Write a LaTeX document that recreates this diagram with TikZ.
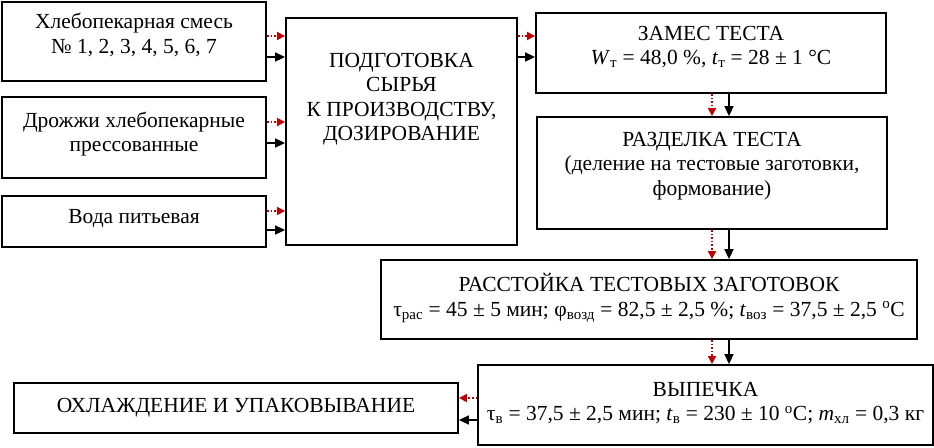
\documentclass[tikz,border=0pt]{standalone}
\usepackage{fontspec}
\setmainfont{Liberation Serif}
\usetikzlibrary{arrows.meta}
\definecolor{arrred}{RGB}{192,0,0}
\begin{document}
\begin{tikzpicture}[x=1pt,y=-1pt,
  box/.style={draw, line width=1.8pt, inner sep=0pt},
  txt/.style={align=center, font=\fontsize{21.5}{24.5}\selectfont, inner sep=0pt},
  flowk/.style={line width=1.6pt, -{Triangle[length=10pt,width=9pt]}},
  flowr/.style={arrred, line width=1.6pt, dotted, -{Triangle[length=8pt,width=8pt]}}]
\useasboundingbox (0,0) rectangle (934,447);
% boxes
\node[box, minimum width=264, minimum height=79] (b1) at (134,41.5) {};
\node[box, minimum width=264, minimum height=81] (b2) at (134,137.5) {};
\node[box, minimum width=264, minimum height=51] (b3) at (134,221.5) {};
\node[box, minimum width=231, minimum height=227] (big) at (401.5,131.5) {};
\node[box, minimum width=350, minimum height=80] (zam) at (711,53) {};
\node[box, minimum width=350, minimum height=112] (raz) at (712,173) {};
\node[box, minimum width=536, minimum height=79] (ras) at (649,299.5) {};
\node[box, minimum width=455, minimum height=80] (vyp) at (705.5,405) {};
\node[box, minimum width=444, minimum height=50] (okh) at (236,408) {};
% texts
\node[txt] (t1) at (134,35) {Хлебопекарная смесь\\№ 1, 2, 3, 4, 5, 6, 7};
\node[txt] (t2) at (134,134) {Дрожжи хлебопекарные\\прессованные};
\node[txt] (t3) at (134,219) {Вода питьевая};
\node[txt] (tbig) at (401.5,99) {ПОДГОТОВКА\\СЫРЬЯ\\К ПРОИЗВОДСТВУ,\\ДОЗИРОВАНИЕ};
\node[txt] (tzam) at (711,47) {ЗАМЕС ТЕСТА\\\textit{W}\textsubscript{т} = 48,0 \%, \textit{t}\textsubscript{т} = 28 ± 1 °C};
\node[txt] (traz) at (712,166) {РАЗДЕЛКА ТЕСТА\\(деление на тестовые заготовки,\\формование)};
\node[txt] (tras) at (649,298) {РАССТОЙКА ТЕСТОВЫХ ЗАГОТОВОК\\τ\textsubscript{рас} = 45 ± 5 мин; φ\textsubscript{возд} = 82,5 ± 2,5 \%; \textit{t}\textsubscript{воз} = 37,5 ± 2,5 \textsuperscript{о}С};
\node[txt] (tvyp) at (705.5,403) {ВЫПЕЧКА\\τ\textsubscript{в} = 37,5 ± 2,5 мин; \textit{t}\textsubscript{в} = 230 ± 10 \textsuperscript{о}С; \textit{m}\textsubscript{хл} = 0,3 кг};
\node[txt] (tokh) at (236,408) {ОХЛАЖДЕНИЕ И УПАКОВЫВАНИЕ};
% arrows into preparation
\draw[flowr] (b1.east |- 0,36) -- (big.west |- 0,36);
\draw[flowk] (b1.east |- 0,57) -- (big.west |- 0,57);
\draw[flowr] (b2.east |- 0,122) -- (big.west |- 0,122);
\draw[flowk] (b2.east |- 0,143) -- (big.west |- 0,143);
\draw[flowr] (b3.east |- 0,211) -- (big.west |- 0,211);
\draw[flowk] (b3.east |- 0,230) -- (big.west |- 0,230);
\draw[flowr] (big.east |- 0,36) -- (zam.west |- 0,36);
\draw[flowk] (big.east |- 0,57) -- (zam.west |- 0,57);
% vertical
\draw[flowr] (zam.south -| 712,0) -- (raz.north -| 712,0);
\draw[flowk] (zam.south -| 729,0) -- (raz.north -| 729,0);
\draw[flowr] (raz.south -| 712,0) -- (ras.north -| 712,0);
\draw[flowk] (raz.south -| 729,0) -- (ras.north -| 729,0);
\draw[flowr] (ras.south -| 712,0) -- (vyp.north -| 712,0);
\draw[flowk] (ras.south -| 729,0) -- (vyp.north -| 729,0);
% to cooling
\draw[flowr] (vyp.west |- 0,398) -- (okh.east |- 0,398);
\draw[flowk] (vyp.west |- 0,420) -- (okh.east |- 0,420);
\end{tikzpicture}
\end{document}
